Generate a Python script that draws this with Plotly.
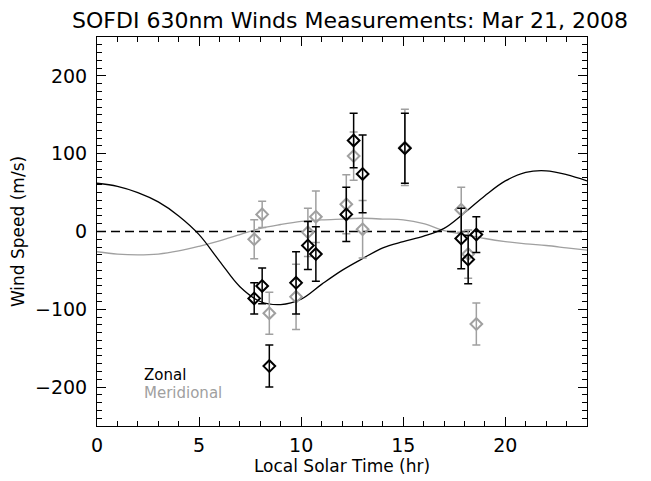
import plotly.graph_objects as go

# ---- data ----
obs_time = [7.70, 8.09, 8.44, 9.75, 10.33, 10.72, 12.21, 12.57, 13.01, 15.08, 17.84, 18.18, 18.58]
zonal = [-86, -70, -173, -66, -18, -29, 22, 117, 74, 107, -9, -36, -4]
zonal_err = [20, 23, 27, 40, 31, 35, 35, 35, 50, 45, 39, 31, 23]
merid = [-10, 22, -105, -84, -1, 19, 35, 97, 3, 108, 28, -29, -119]
merid_err = [25, 17, 27, 42, 31, 33, 38, 31, 37, 49, 29, 31, 27]

model_time = list(range(0, 25))
zonal_model = [62, 58, 50, 38, 20, -4, -38, -71, -90, -94, -87, -68, -50, -35, -21, -13,
               -6, 4, 24, 46, 65, 76, 78, 73, 65]
merid_model = [-26, -29, -30, -29, -25, -19, -12, -4, 4, 9, 13, 15, 16, 17, 16, 15,
               10, 1, -4, -9, -13, -16, -18, -21, -24]

x_ticks = [0, 5, 10, 15, 20]
y_ticks = [-200, -100, 0, 100, 200]

FONT = "DejaVu Sans"
GRAY = "#a0a0a0"

fig = go.Figure()

fig.add_trace(go.Scatter(x=model_time, y=merid_model, mode="lines", line=dict(color=GRAY, width=1.3, shape="spline"),
                         showlegend=False, hoverinfo="skip"))
fig.add_trace(go.Scatter(x=model_time, y=zonal_model, mode="lines", line=dict(color="black", width=1.3, shape="spline"),
                         showlegend=False, hoverinfo="skip"))
fig.add_trace(go.Scatter(x=[0, 24], y=[0, 0], mode="lines", line=dict(color="black", width=1.3, dash="9px,5px"),
                         showlegend=False, hoverinfo="skip"))

fig.add_trace(go.Scatter(x=obs_time, y=merid, mode="markers",
                         marker=dict(symbol="diamond-open", size=9, color=GRAY, line=dict(width=2, color=GRAY)),
                         error_y=dict(type="data", array=merid_err, color=GRAY, thickness=1.5, width=4),
                         showlegend=False))
fig.add_trace(go.Scatter(x=obs_time, y=zonal, mode="markers",
                         marker=dict(symbol="diamond-open", size=9, color="black", line=dict(width=2, color="black")),
                         error_y=dict(type="data", array=zonal_err, color="black", thickness=1.5, width=4),
                         showlegend=False))

fig.add_annotation(x=2.2, y=-184, xref="x", yref="y", text="Zonal", showarrow=False,
                   xanchor="left", yanchor="middle", font=dict(family=FONT, size=15, color="black"))
fig.add_annotation(x=2.2, y=-207, xref="x", yref="y", text="Meridional", showarrow=False,
                   xanchor="left", yanchor="middle", font=dict(family=FONT, size=15, color=GRAY))

axis_common = dict(showgrid=False, zeroline=False, showline=True, linecolor="black", linewidth=1,
                   mirror="allticks", ticks="inside", ticklen=9, tickwidth=1, tickcolor="black",
                   automargin=False,
                   tickfont=dict(family=FONT, size=19, color="black"))

fig.update_xaxes(range=[0, 24], tickvals=x_ticks, ticktext=[str(v) for v in x_ticks],
                 minor=dict(dtick=1, ticks="inside", ticklen=5, tickcolor="black", tickwidth=1),
                 title=dict(text="Local Solar Time (hr)", font=dict(family=FONT, size=17, color="black"), standoff=0),
                 ticklabelstandoff=2, **axis_common)
fig.update_yaxes(range=[-250, 250], tickvals=y_ticks, ticktext=["\u2212200", "\u2212100", "0", "100", "200"],
                 minor=dict(dtick=10, ticks="inside", ticklen=5, tickcolor="black", tickwidth=1),
                 title=dict(text="Wind Speed (m/s)", font=dict(family=FONT, size=17, color="black"), standoff=6),
                 ticklabelstandoff=5, **axis_common)

# the page body adds an 8px margin, so the figure is 8px smaller and offset
fig.update_layout(
    width=643, height=473,
    margin=dict(l=89, r=64, t=29, b=55, pad=0),
    paper_bgcolor="white", plot_bgcolor="white",
    title=dict(text="SOFDI 630nm Winds Measurements: Mar 21, 2008", x=342 / 643, xref="container",
               xanchor="center", y=1 - 12.5 / 473, yref="container", yanchor="middle",
               font=dict(family=FONT, size=22, color="black")),
)

fig.write_html("out.html")
